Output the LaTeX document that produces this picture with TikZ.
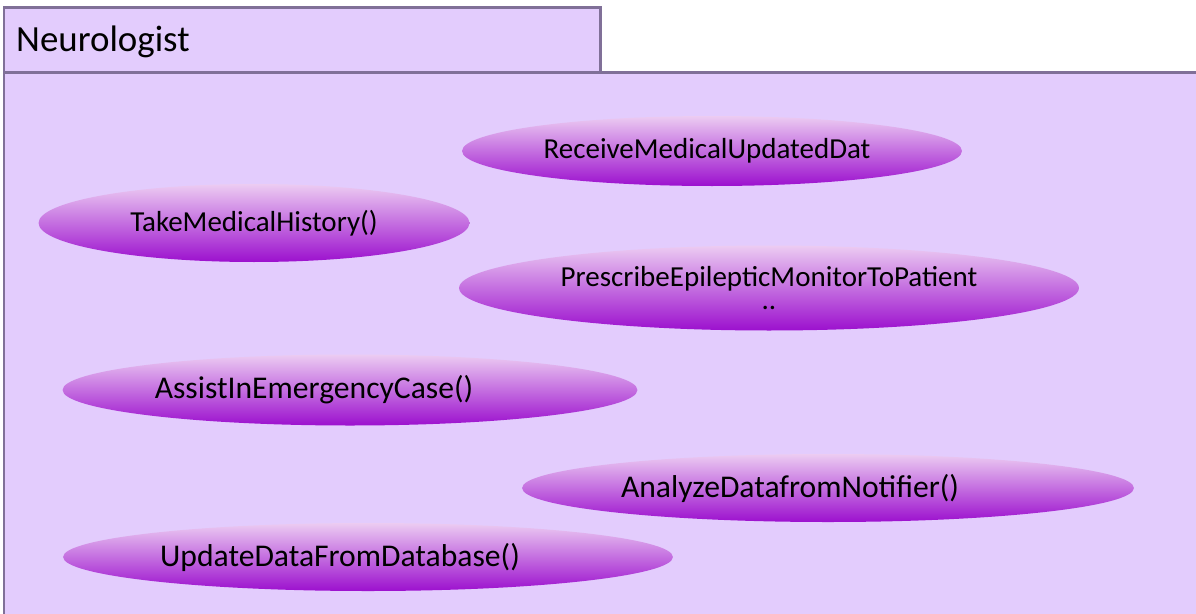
\documentclass[tikz,border=0pt]{standalone}
\usepackage{fontspec}
\setmainfont{Carlito}
\usetikzlibrary{shapes.geometric}
\definecolor{neurofill}{RGB}{227,204,253}
\definecolor{neuroedge}{RGB}{128,112,152}
\definecolor{casetop}{RGB}{236,204,242}
\definecolor{casemid}{RGB}{198,142,224}
\definecolor{casebot}{RGB}{156,16,206}
\tikzstyle{boxline}=[draw=neuroedge,line width=0.6mm,fill=neurofill]
\tikzstyle{usecase}=[ellipse,inner sep=0pt,top color=casetop,middle color=casemid,bottom color=casebot,text=black]
\tikzstyle{casetext}=[font=\fontsize{16.5}{19}\selectfont]
\tikzstyle{bigcasetext}=[font=\fontsize{18}{21}\selectfont]

\begin{document}
\begin{tikzpicture}[x=0.02cm,y=-0.02cm]
    \useasboundingbox (0,0) rectangle (1196,613);

    % Actor tab and system box
    \draw[boxline] (4,72) rectangle (1220,640);
    \draw[boxline] (4,7) rectangle (600,72);
    \node[anchor=west,font=\fontsize{21}{25}\selectfont] (neurologist) at (10,42) {Neurologist};

    % Use cases
    \node[usecase,casetext,minimum width=10cm,minimum height=1.4cm] (receive) at (712,151) {ReceiveMedicalUpdatedDat\rule{0.2cm}{0pt}};
    \node[usecase,casetext,minimum width=8.62cm,minimum height=1.56cm] (history) at (254,223) {TakeMedicalHistory()};
    \node[usecase,casetext,align=center,minimum width=12.4cm,minimum height=1.7cm] (prescribe) at (769,288) {PrescribeEpilepticMonitorToPatient\\[-6pt]..};
    \node[usecase,bigcasetext,minimum width=11.5cm,minimum height=1.42cm] (emergency) at (350,390) {AssistInEmergencyCase()\rule{1.44cm}{0pt}};
    \node[usecase,bigcasetext,minimum width=12.24cm,minimum height=1.36cm] (analyze) at (828,488) {AnalyzeDatafromNotifier()\rule{1.52cm}{0pt}};
    \node[usecase,bigcasetext,minimum width=12.2cm,minimum height=1.36cm] (database) at (368,557) {UpdateDataFromDatabase()\rule{1.12cm}{0pt}};
\end{tikzpicture}
\end{document}
